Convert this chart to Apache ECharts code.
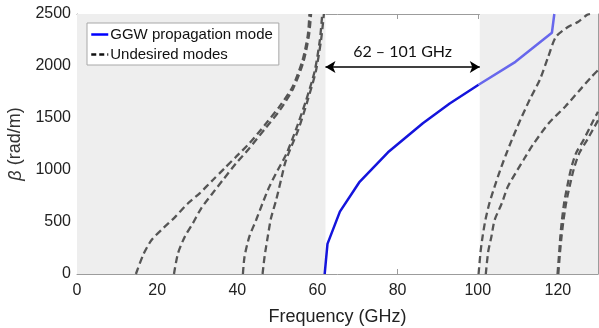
<!DOCTYPE html>
<html>
<head>
<meta charset="utf-8">
<script src="https://cdn.jsdelivr.net/npm/echarts@6/dist/echarts.min.js"></script>
<style>html,body{margin:0;padding:0;background:#fff}#c{width:599px;height:328px}</style>
</head>
<body>
<div id="c"></div>
<script>
// ---- data (frequency GHz, beta rad/m) ----
const xTicks = [0, 20, 40, 60, 80, 100, 120];
const yTicks = [0, 500, 1000, 1500, 2000, 2500];
const shadedBands = [[0, 62], [100.5, 130]];
const bandLabel = '62 – 101 GHz';
const bandArrow = [62, 100.5, 1990];

const ggwMain = [[61.8,0],[62.5,290],[65.6,600],[70.4,880],[77.6,1170],[86.3,1450],[93,1640],[100.2,1820]];
const ggwFaded = [[100.2,1820],[109.4,2040],[118.5,2320],[119.1,2500]];

const modeA = [[14.7,0],[16.5,183],[18.6,327],[21.5,440],[24.4,545],[27.7,680],[30.6,776],[33.9,904],[36.8,1016],[39.7,1128],[43,1256],[47.2,1449],[50.5,1609],[53.8,1801],[56.3,2058],[57.6,2300],[58,2500]];
const modeB = [[24.2,0],[25.2,199],[26.9,359],[28.9,487],[31,632],[33.5,760],[36.4,904],[39.7,1064],[42.8,1200],[47,1400],[50.7,1580],[53.9,1780],[56.5,2040],[57.9,2300],[58.4,2500]];
const modeC = [[41.4,0],[41.8,166],[43,359],[44.7,519],[46.3,680],[48,840],[50.1,1000],[52.2,1150],[54.6,1385],[57,1650],[59.3,1950],[60.6,2250],[61.2,2500]];
const modeD = [[46.3,0],[46.8,166],[47.6,359],[48.4,535],[49.7,712],[50.9,904],[51.9,1064],[53.2,1200],[55.2,1385],[57.4,1650],[59.6,1950],[60.9,2250],[61.6,2500]];
const modeE = [[100.2,0],[100.7,214],[101.2,359],[101.9,519],[102.9,680],[104.2,840],[105.6,1000],[107,1144],[108.5,1290],[110.6,1480],[113,1680],[115.5,1870],[117.5,2080],[119.5,2280],[122.6,2378],[125.1,2426],[127.2,2490],[128,2500]];
const modeF = [[102,0],[102.6,214],[103.4,359],[104.2,519],[106,680],[107.5,840],[109.4,968],[111.4,1096],[113.7,1240],[117.7,1449],[121.8,1609],[125.1,1753],[128.4,1897],[130,1960]];
const modeG = [[119.9,0],[120.3,199],[120.6,359],[121,519],[121.6,695],[122.4,856],[123.3,1016],[124.5,1160],[126.4,1290],[128.9,1480],[130,1560]];
const modeH = [[120.1,0],[120.5,199],[120.9,359],[121.4,519],[122.1,695],[123,856],[124,1016],[125.3,1160],[127.3,1290],[129.9,1470],[130,1478]];

const undesired = [modeA, modeB, modeC, modeD, modeE, modeF, modeG, modeH];

const axisGray = '#9c9c9c';
const font = 'Liberation Sans, Arial, sans-serif';

const chart = echarts.init(document.getElementById('c'), null, {renderer: 'canvas'});

const dashSeries = undesired.map(d => ({
  name: 'Undesired modes',
  type: 'line',
  data: d,
  symbol: 'none',
  smooth: 0.25,
  z: 3,
  lineStyle: {color: '#555555', width: 2.3, type: [7, 4]},
  itemStyle: {color: '#111'}
}));

const option = {
  animation: false,
  grid: {left: 77, right: 1, top: 14, bottom: 54, containLabel: false, outerBoundsMode: 'none'},
  legend: {
    show: true,
    orient: 'vertical',
    left: 87, top: 23,
    backgroundColor: '#fff',
    borderColor: '#a8a8a8', borderWidth: 1, borderRadius: 0,
    padding: [4, 6, 3, 3],
    itemGap: 5,
    itemWidth: 17, itemHeight: 10,
    textStyle: {fontFamily: font, fontSize: 15, color: '#111', padding: [0,0,0,-3]},
    data: [
      {name: 'GGW propagation mode', itemStyle: {opacity: 0}, lineStyle: {color: '#0000ff', width: 2.5, opacity: 1}},
      {name: 'Undesired modes', itemStyle: {opacity: 0}, lineStyle: {color: '#111', width: 2.5, type: [5, 3], opacity: 1}}
    ]
  },
  xAxis: [{
    type: 'value', min: 0, max: 130, interval: 20,
    name: 'Frequency (GHz)', nameLocation: 'middle', nameGap: 34,
    nameTextStyle: {fontFamily: font, fontSize: 18, color: '#222'},
    axisLine: {show: true, lineStyle: {color: axisGray, width: 1}},
    axisTick: {show: true, inside: true, length: 5, lineStyle: {color: axisGray}},
    axisLabel: {fontFamily: font, fontSize: 16, color: '#222', margin: 9,
      formatter: v => xTicks.includes(v) ? String(v) : ''},
    splitLine: {show: false}
  }, {
    type: 'value', min: 0, max: 130, interval: 20, position: 'top',
    axisLine: {show: true, onZero: false, lineStyle: {color: axisGray, width: 1}},
    axisTick: {show: true, inside: true, length: 5, lineStyle: {color: axisGray}},
    axisLabel: {show: false}, splitLine: {show: false}
  }],
  yAxis: [{
    type: 'value', min: 0, max: 2500, interval: 500,
    name: '{b|β} (rad/m)', nameLocation: 'middle', nameGap: 48, nameRotate: 90,
    nameTextStyle: {fontFamily: font, fontSize: 18, color: '#333',
      rich: {b: {fontFamily: font, fontSize: 18, fontStyle: 'italic', color: '#333'}}},
    axisLine: {show: true, lineStyle: {color: axisGray, width: 1}},
    axisTick: {show: true, inside: true, length: 5, lineStyle: {color: axisGray}},
    axisLabel: {fontFamily: font, fontSize: 16, color: '#222', margin: 6,
      formatter: v => yTicks.includes(v) ? String(v) : ''},
    splitLine: {show: false}
  }, {
    type: 'value', min: 0, max: 2500, interval: 500, position: 'right',
    axisLine: {show: true, onZero: false, lineStyle: {color: axisGray, width: 1}},
    axisTick: {show: true, inside: true, length: 5, lineStyle: {color: axisGray}},
    axisLabel: {show: false}, splitLine: {show: false}
  }],
  series: [
    {
      name: 'bands', type: 'line', data: [], z: 1, silent: true,
      markArea: {
        silent: true,
        itemStyle: {color: '#eeeeee'},
        data: shadedBands.map(b => [{xAxis: b[0]}, {xAxis: b[1]}])
      },
      markLine: {
        silent: true,
        symbol: ['arrow', 'arrow'], symbolSize: [9, 10],
        lineStyle: {color: '#000', width: 1.6, type: 'solid'},
        label: {show: true, position: 'middle', formatter: bandLabel, distance: 7,
          fontFamily: 'Lato, Open Sans, sans-serif', fontSize: 16, color: '#111'},
        data: [[{coord: [bandArrow[0], bandArrow[2]]}, {coord: [bandArrow[1], bandArrow[2]]}]]
      }
    },
    {
      name: 'GGW propagation mode', type: 'line', data: ggwMain, symbol: 'none', z: 4,
      lineStyle: {color: '#1414dc', width: 2.5}, itemStyle: {color: '#0000ff'}
    },
    {
      name: 'GGW propagation mode', type: 'line', data: ggwFaded, symbol: 'none', z: 4,
      lineStyle: {color: '#6767ec', width: 2.5}, itemStyle: {color: '#0000ff'}
    },
    ...dashSeries
  ]
};
chart.setOption(option);
</script>
</body>
</html>
